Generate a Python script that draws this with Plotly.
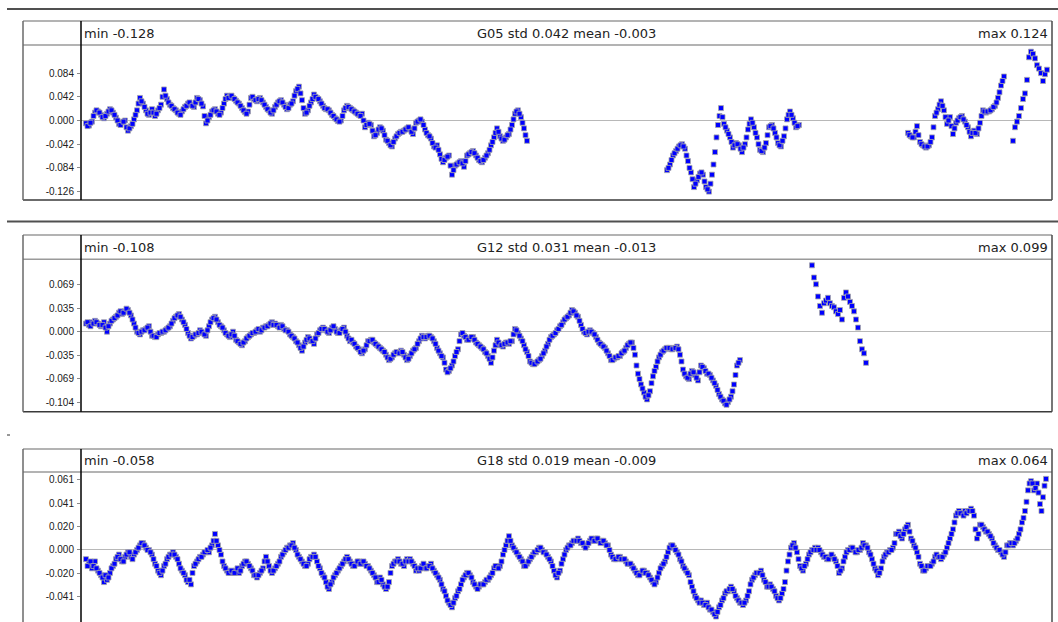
import numpy as np
import plotly.graph_objects as go

W, H = 1058, 622

# ---------------- data (values in mm, x = epoch index) ----------------
sats = ["G05", "G12", "G18"]
mins = [-0.128, -0.108, -0.058]
maxs = [0.124, 0.099, 0.064]
stds = [0.042, 0.031, 0.019]
means = [-0.003, -0.013, -0.009]

g05_a_start, g05_a_step = 5, 3
g05_a_mm = [-5, -9, -2, 14, 16, 10, 4, 12, 20, 14, 5, -6, -3, 0, -18, -10, 2, 18, 40, 30, 18, 10, 20, 8, 18, 28, 55, 38,
            28, 22, 18, 12, 16, 24, 30, 28, 24, 40, 36, 25, -5, 6, 16, 20, 12, 14, 30, 44, 42, 40, 35, 30, 22, 15, 16, 40,
            38, 34, 40, 32, 24, 18, 12, 24, 32, 36, 28, 20, 28, 34, 52, 60, 36, 12, 18, 32, 46, 40, 34, 26, 20, 18, 10, 4,
            -1, 0, 18, 26, 22, 18, 14, 10, 12, -12, -4, -8, -28, -22, -12, -18, -34, -40, -46, -32, -24, -20, -18, -14,
            -16, -24, -4, 0, -2, -16, -26, -32, -46, -44, -60, -74, -66, -62, -96, -80, -76, -72, -82, -62, -58, -54, -62,
            -70, -74, -66, -58, -44, -30, -14, -28, -36, -30, -24, -8, 12, 18, 6, -14, -36]
g05_a2_start = 6.5
g05_a2_mm = [-10, -4, 8, 18, 14, 6, 8, 16, 18, 10, 0, -8, -2, -12, -14, -6, 10, 30, 34, 24, 12, 14, 14, 12, 22, 42, 44,
             32, 26, 20, 14, 10, 20, 26, 32, 26, 32, 38, 30, 8, 0, 10, 18, 16, 10, 22, 38, 40, 44, 38, 32, 26, 18, 12, 28,
             42, 36, 38, 36, 28, 20, 14, 18, 28, 34, 32, 24, 22, 30, 44, 56, 48, 22, 14, 26, 38, 42, 38, 30, 22, 20, 14,
             8, 2, -2, 8, 22, 24, 20, 16, 12, 8, 0, -8, -6, -18, -26, -16, -14, -26, -36, -44, -38, -28, -22, -20, -16,
             -12, -20, -14, -2, 2, -8, -22, -28, -40, -48, -52, -68, -70, -64, -80, -88, -78, -74, -76, -72, -60, -56,
             -58, -66, -72, -70, -62, -52, -38, -22, -20, -32, -34, -26, -16, 2, 16, 12, -4, -26]
g05_b_start, g05_b_step = 586, 3
g05_b_mm = [-88, -78, -62, -54, -46, -42, -50, -72, -92, -118, -106, -94, -96, -118, -126, -96, -56, -8, 22, -6, -18, -30,
            -48, -40, -44, -56, -42, -16, 2, -12, -30, -52, -56, -40, -12, -8, -22, -40, -46, -28, 2, 16, 4, -12, -8]
g05_b2_start = 587.5
g05_b2_mm = [-84, -70, -58, -50, -44, -46, -62, -84, -104, -112, -100, -92, -108, -122, -112, -78, -30, 8, 6, -12, -24,
             -38, -44, -42, -50, -48, -30, -6, -4, -22, -42, -54, -48, -26, -10, -14, -30, -44, -36, -14, 10, 10, -4, -10]
g05_c_start, g05_c_step = 827, 3
g05_c_mm = [-22, -28, -30, -10, -38, -44, -48, -44, -30, 8, 20, 34, 18, -6, 6, -24, -4, 4, 8, -2, -12, -28, -18, -24, -4,
            18, 14, 16, 20, 26, 40, 62, 78]
g05_c2_start = 828.5
g05_c2_mm = [-26, -30, -20, -26, -42, -46, -46, -38, -12, 14, 28, 26, 6, 0, -10, -14, 0, 6, 2, -8, -20, -22, -22, -14, 8,
             16, 16, 18, 24, 32, 50, 70]
g05_d_start, g05_d_step = 932, 2
g05_d_mm = [-36, -12, -2, 8, 22, 38, 48, 72, 112, 122, 118, 110, 98, 92, 84, 70, 82, 90]

g12_a_start, g12_a_step = 5, 3
g12_a_mm = [12, 10, 14, 16, 12, 8, 14, 0, 12, 18, 22, 28, 26, 30, 32, 24, 12, 0, -4, 2, 4, 8, -6, -8, -4, -2, 0, 4, 8, 16,
            22, 26, 18, 10, -2, -10, -6, -4, 2, -2, -6, 8, 18, 22, 14, 8, 2, -4, -8, 0, -12, -16, -20, -14, -8, -4, -2, 2,
            0, 6, 8, 10, 14, 12, 8, 10, 4, 2, -4, -8, -14, -20, -28, -16, -8, -14, -18, -4, 2, 6, 2, -2, 6, 4, -2, 2, 6,
            -6, -14, -16, -22, -26, -32, -26, -14, -12, -16, -20, -24, -28, -34, -42, -38, -32, -30, -28, -34, -42, -36,
            -28, -24, -14, -6, -10, -6, -8, -14, -24, -32, -38, -56, -58, -50, -36, -26, -4, -6, -12, -10, -8, -16, -20,
            -24, -30, -36, -46, -28, -12, -20, -22, -16, -18, -14, 4, -2, -10, -20, -30, -44, -48, -46, -42, -36, -28,
            -18, -8, -4, 2, 8, 14, 20, 24, 32, 28, 22, 10, 0, -4, 2, -2, -8, -16, -20, -24, -32, -42, -40, -38, -36, -30,
            -24, -18, -16, -34, -62, -78, -90, -100, -88, -66, -52, -38, -30, -26, -24, -26, -24, -22, -34, -56, -66,
            -70, -58, -64, -72, -50, -54, -62, -64, -72, -80, -92, -100, -106, -104, -96, -78, -50, -42]
g12_a2_start = 6.5
g12_a2_mm = [14, 8, 12, 14, 10, 10, 6, 8, 16, 20, 24, 30, 28, 34, 28, 18, 6, -2, 0, 2, 6, 0, -6, -8, -2, 0, 2, 6, 12, 20,
             24, 22, 14, 4, -6, -8, -4, -2, 0, -4, 2, 14, 20, 18, 10, 6, -2, -6, -4, -6, -14, -18, -16, -10, -6, -2, 0, 4,
             2, 6, 8, 12, 10, 10, 6, 8, 2, 0, -6, -10, -16, -24, -22, -12, -10, -14, -10, -2, 4, 4, 0, 2, 8, 0, -2, 4, 0,
             -10, -12, -18, -24, -30, -28, -20, -14, -12, -18, -22, -26, -30, -38, -40, -34, -30, -32, -30, -38, -40, -32,
             -26, -18, -10, -8, -8, -6, -10, -18, -28, -36, -46, -60, -54, -44, -30, -14, -2, -8, -12, -8, -12, -18, -22,
             -26, -32, -40, -38, -20, -16, -20, -18, -16, -14, -4, 2, -6, -14, -26, -36, -46, -48, -44, -40, -32, -22,
             -12, -6, -2, 4, 10, 18, 22, 28, 30, 24, 16, 4, -2, 0, 0, -4, -12, -18, -22, -28, -36, -42, -38, -36, -32,
             -28, -20, -16, -24, -50, -70, -84, -96, -94, -76, -58, -44, -34, -28, -24, -24, -26, -24, -26, -44, -62, -68,
             -62, -60, -68, -60, -52, -58, -62, -68, -76, -86, -96, -102, -108, -100, -88, -64, -46]
g12_b_start, g12_b_step = 731, 2
g12_b_mm = [98, 80, 70, 52, 38, 28, 42, 46, 50, 42, 38, 36, 30, 26, 32, 18, 50, 58, 52, 44, 38, 30, 18, 6, -14, -26, -32,
            -46]

g18_a_start, g18_a_step = 5, 3
g18_a_mm = [-8, -12, -16, -10, -18, -22, -28, -26, -20, -14, -8, -4, -10, -6, -2, -6, -4, 0, 4, 6, 2, 0, -4, -12, -18,
            -22, -14, -8, -4, -2, -6, -12, -18, -22, -28, -30, -14, -10, -6, -4, -2, -2, 4, 14, 4, -4, -14, -18, -20, -20,
            -18, -20, -14, -10, -12, -16, -22, -24, -20, -16, -6, -14, -20, -16, -12, -6, -2, 2, 4, 6, 0, -6, -10, -14,
            -12, -6, -4, -10, -16, -22, -28, -34, -28, -22, -18, -14, -10, -6, -10, -14, -12, -10, -12, -12, -14, -18,
            -22, -28, -24, -30, -34, -28, -14, -10, -8, -12, -14, -8, -8, -12, -18, -18, -14, -16, -14, -12, -18, -22,
            -26, -34, -40, -46, -50, -42, -36, -30, -24, -20, -22, -28, -32, -32, -30, -28, -26, -22, -16, -14, -14, -4,
            4, 12, 4, 0, -4, -8, -14, -12, -8, -4, -2, 2, 0, -2, -6, -10, -18, -24, -18, -8, 0, 4, 6, 8, 10, 6, 4, 4, 8,
            8, 10, 8, 8, 6, 4, -4, -8, -8, -6, -8, -10, -12, -14, -18, -22, -20, -18, -20, -24, -28, -28, -20, -14, -10,
            -2, 4, 2, -2, -8, -14, -18, -22, -32, -40, -44, -44, -48, -46, -52, -54, -58, -50, -44, -38, -36, -32, -36,
            -42, -46, -48, -44, -36, -26, -22, -20, -18, -26, -32, -30, -34, -40, -44, -38, -28, -10, 2, 6, -2, -14, -18,
            -12, -4, 0, 2, 2, -2, -6, -8, -6, -6, -10, -20, -16, -6, 0, 2, 0, -2, 0, 6, 4, -2, -8, -16, -22, -16, -6, -2,
            0, 2, 14, 16, 10, 18, 22, 10, 4, -2, -12, -18, -16, -14, -12, -6, -6, -8, -4, 2, 10, 18, 30, 34, 32, 34, 34,
            36, 30, 10, 22, 20, 16, 14, 10, 4, 0, -2, -6, 4, 6, 4, 8, 14, 24, 34, 52, 60, 52, 58, 40, 46, 62]
g18_a2_start = 6.5
g18_a2_mm = [-14, -10, -14, -16, -20, -24, -22, -24, -16, -12, -6, -8, -10, -4, -2, -8, -2, 2, 6, 4, 0, -2, -8, -14, -20,
             -18, -12, -6, -4, -4, -8, -16, -20, -26, -26, -20, -12, -8, -6, -2, 0, 2, 8, 8, 0, -10, -16, -20, -18, -20,
             -16, -18, -12, -10, -14, -18, -22, -22, -18, -10, -10, -18, -18, -14, -10, -4, 0, 2, 4, 2, -4, -8, -12, -14,
             -8, -6, -6, -14, -20, -24, -32, -30, -24, -20, -16, -12, -8, -8, -12, -14, -10, -12, -10, -14, -16, -20, -24,
             -28, -26, -32, -32, -20, -12, -10, -10, -12, -10, -10, -10, -14, -16, -16, -12, -16, -14, -16, -20, -24, -30,
             -36, -44, -48, -46, -40, -34, -26, -22, -20, -24, -30, -34, -30, -30, -26, -24, -20, -14, -16, -10, 0, 8, 8,
             2, -2, -6, -10, -14, -10, -6, -2, 0, 2, -2, -4, -8, -14, -22, -20, -12, -4, 2, 4, 8, 8, 8, 6, 2, 6, 10, 8,
             10, 6, 8, 4, 0, -6, -8, -6, -8, -8, -12, -12, -16, -20, -22, -18, -20, -22, -26, -30, -24, -16, -12, -6, 2,
             4, 0, -4, -10, -16, -20, -28, -36, -42, -46, -46, -48, -50, -52, -56, -54, -48, -42, -36, -34, -34, -40, -44,
             -46, -46, -40, -30, -24, -20, -20, -22, -28, -32, -32, -36, -42, -42, -34, -18, -4, 4, 2, -8, -16, -14, -8,
             -2, 0, 0, 0, -4, -6, -8, -4, -8, -14, -18, -10, -2, 0, 2, -2, 0, 2, 4, 2, -4, -12, -18, -20, -10, -4, -2, 0,
             6, 14, 12, 14, 20, 16, 8, 2, -6, -14, -18, -14, -14, -10, -4, -6, -6, -2, 6, 14, 24, 32, 32, 30, 32, 34, 34,
             18, 14, 22, 18, 16, 12, 6, 2, 0, -4, -2, 4, 6, 6, 10, 18, 28, 42, 58, 58, 54, 50, 34, 56]

x_range = [0, 971]
y_ranges = [[-0.1409, 0.1338], [-0.1182, 0.1069], [-0.0628, 0.0680]]
tick_steps = [0.042, 0.0347, 0.0204]
tick_labels = [
    ["-0.126", "-0.084", "-0.042", "0.000", "0.042", "0.084"],
    ["-0.104", "-0.069", "-0.035", "0.000", "0.035", "0.069"],
    ["-0.041", "-0.020", "0.000", "0.020", "0.041", "0.061"],
]
tick_first = [-3, -3, -2]

series = [
    [(g05_a_start, g05_a_step, g05_a_mm), (g05_a2_start, g05_a_step, g05_a2_mm),
     (g05_b_start, g05_b_step, g05_b_mm), (g05_b2_start, g05_b_step, g05_b2_mm),
     (g05_c_start, g05_c_step, g05_c_mm), (g05_c2_start, g05_c_step, g05_c2_mm),
     (g05_d_start, g05_d_step, g05_d_mm)],
    [(g12_a_start, g12_a_step, g12_a_mm), (g12_a2_start, g12_a_step, g12_a2_mm),
     (g12_b_start, g12_b_step, g12_b_mm)],
    [(g18_a_start, g18_a_step, g18_a_mm), (g18_a2_start, g18_a_step, g18_a2_mm)],
]

# ---------------- layout geometry (pixels) ----------------
LEFT, DIV, RIGHT = 23, 81, 1052
panels = [
    dict(sep=9, top=21, head=45, bot=200),
    dict(sep=221.5, top=235, head=259.3, bot=411.7),
    dict(sep=None, top=449, head=472, bot=622),
]


def px(x):
    return x / W


def py(y):
    return 1 - y / H


fig = go.Figure()
shapes = []
annotations = []
layout = dict(width=W, height=H, margin=dict(l=0, r=0, t=0, b=0), paper_bgcolor="white",
              plot_bgcolor="white", showlegend=False)

for i, p in enumerate(panels):
    k = "" if i == 0 else str(i + 1)
    xa, ya = "x" + k, "y" + k
    xs, ys = [], []
    for start, step, vals in series[i]:
        n = len(vals)
        xs += list(start + step * np.arange(n)) + [None]
        ys += list(np.array(vals) / 1000.0) + [None]
    fig.add_trace(go.Scatter(x=xs, y=ys, mode="markers", xaxis=xa, yaxis=ya,
                             marker=dict(symbol="square", size=5, color="#0000ff",
                                         line=dict(color="#a8a8a8", width=0.8)),
                             hoverinfo="skip"))
    tv = [(tick_first[i] + j) * tick_steps[i] for j in range(len(tick_labels[i]))]
    layout["xaxis" + k] = dict(domain=[px(DIV), px(RIGHT)], range=x_range, visible=False,
                               anchor=ya, fixedrange=True)
    layout["yaxis" + k] = dict(domain=[max(0, py(p["bot"])), py(p["head"])], range=y_ranges[i], anchor=xa,
                               tickvals=tv, ticktext=tick_labels[i], ticks="outside", ticklen=3,
                               tickcolor="#8a8a8a", tickwidth=1, showgrid=False, zeroline=True,
                               zerolinecolor="#b8b8b8", zerolinewidth=1, showline=False,
                               tickfont=dict(family="Liberation Sans, Arial", size=10, color="#202020"),
                               ticklabelstandoff=1, fixedrange=True)
    # frame
    if p["sep"] is not None:
        shapes.append(dict(type="line", xref="paper", yref="paper", x0=px(7), x1=px(1058),
                           y0=py(p["sep"]), y1=py(p["sep"]), line=dict(color="#505050", width=2)))
    for yy, col, wd in [(p["top"], "#9a9a9a", 1.5), (p["head"], "#9a9a9a", 1.5)]:
        shapes.append(dict(type="line", xref="paper", yref="paper", x0=px(LEFT), x1=px(RIGHT),
                           y0=py(yy), y1=py(yy), line=dict(color=col, width=wd)))
    if p["bot"] < H:
        shapes.append(dict(type="line", xref="paper", yref="paper", x0=px(LEFT), x1=px(RIGHT),
                           y0=py(p["bot"]), y1=py(p["bot"]), line=dict(color="#3a3a3a", width=1.5)))
    for xx, col, wd in [(LEFT, "#6a6a6a", 1.5), (RIGHT, "#4a4a4a", 1.5), (DIV, "#000000", 1.5)]:
        shapes.append(dict(type="line", xref="paper", yref="paper", x0=px(xx), x1=px(xx),
                           y0=py(p["top"]), y1=py(min(p["bot"], H)), line=dict(color=col, width=wd)))
    ymid = py((p["top"] + p["head"]) / 2)
    hfont = dict(family="DejaVu Sans", size=13, color="#222222")
    annotations.append(dict(xref="paper", yref="paper", x=px(DIV + 1), y=ymid, xanchor="left", yanchor="middle",
                            text=f"min {mins[i]:.3f}", showarrow=False, font=hfont))
    annotations.append(dict(xref="paper", yref="paper", x=px((DIV + RIGHT) / 2), y=ymid, xanchor="center",
                            yanchor="middle", showarrow=False, font=hfont,
                            text=f"{sats[i]} std {stds[i]:.3f} mean {means[i]:.3f}"))
    annotations.append(dict(xref="paper", yref="paper", x=px(RIGHT - 2), y=ymid, xanchor="right", yanchor="middle",
                            text=f"max {maxs[i]:.3f}", showarrow=False, font=hfont))

# small dash left of third panel
shapes.append(dict(type="line", xref="paper", yref="paper", x0=px(7), x1=px(10), y0=py(435), y1=py(435),
                   line=dict(color="#303030", width=1)))

layout["shapes"] = shapes
layout["annotations"] = annotations
fig.update_layout(**layout)
fig.write_html("out.html")
